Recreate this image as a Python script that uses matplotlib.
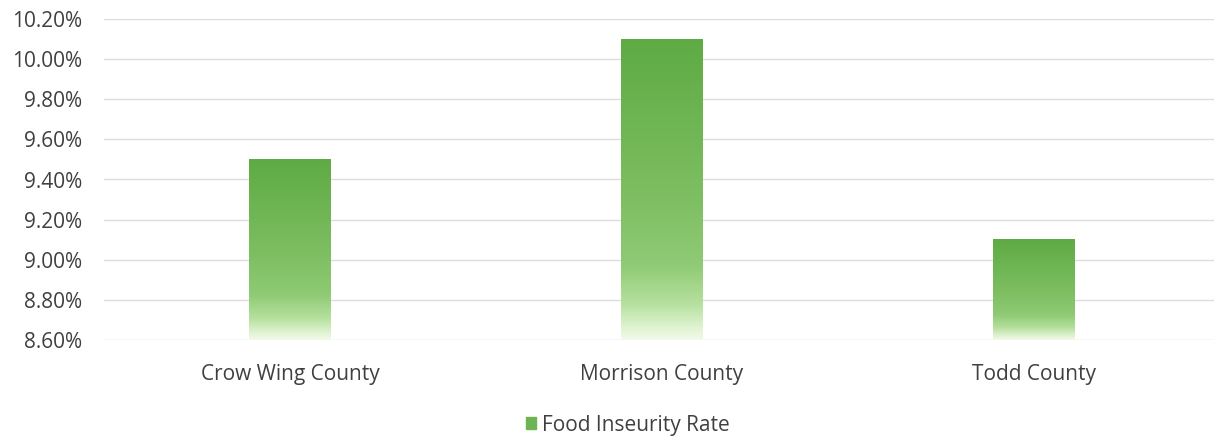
import numpy as np
import matplotlib
matplotlib.use("Agg")
import matplotlib.pyplot as plt
from matplotlib.colors import LinearSegmentedColormap
from matplotlib.ticker import FuncFormatter
from matplotlib.patches import Patch

counties = ["Crow Wing County", "Morrison County", "Todd County"]
rates = [9.50, 10.10, 9.10]
series_name = "Food Inseurity Rate"
y_ticks = [8.60, 8.80, 9.00, 9.20, 9.40, 9.60, 9.80, 10.00, 10.20]

plt.rcParams['font.family'] = ['Open Sans', 'DejaVu Sans']

# green gradient, darker on top, only fading out near the bottom
grad = LinearSegmentedColormap.from_list(
    "g", [(0.0, "#f2faea"), (0.04, "#e0f3d2"), (0.12, "#b5e09d"),
          (0.25, "#8fca74"), (0.5, "#7cbd60"), (1.0, "#5eab44")])

fig = plt.figure(figsize=(12.14, 4.38), dpi=100)
ax = fig.add_axes([104/1214, 98/438, 1110/1214, 321/438])

ymin, ymax = y_ticks[0], y_ticks[-1]
w = 0.22
x = np.arange(len(counties))
bars = ax.bar(x, [r - ymin for r in rates], bottom=ymin, width=w, color="none")
g = np.linspace(0, 1, 256).reshape(-1, 1)
for b in bars:
    x0, y0 = b.get_x(), b.get_y()
    ax.imshow(g, cmap=grad, origin="lower", aspect="auto",
              extent=[x0, x0 + b.get_width(), y0, y0 + b.get_height()], zorder=2)

ax.set_xlim(-0.5, 2.485)
ax.set_ylim(ymin, ymax)
ax.set_yticks(y_ticks)
ax.yaxis.set_major_formatter(FuncFormatter(lambda v, p: f"{v:.2f}%"))
ax.set_xticks(x)
ax.set_xticklabels(counties)
ax.grid(axis="y", color="#dcdcdc", lw=1, zorder=0)
ax.set_axisbelow(True)
for s in ax.spines.values():
    s.set_visible(False)
ax.tick_params(length=0, labelsize=15, colors="#404040")
ax.tick_params(axis="y", pad=16)
ax.tick_params(axis="x", pad=17)

ax.legend(handles=[Patch(color="#6cb552", label=series_name)], loc="center",
          bbox_to_anchor=(0.472, -0.265), frameon=False, fontsize=15,
          handlelength=0.5, handleheight=0.5, handletextpad=0.3, labelcolor="#404040")

fig.savefig("out.png", dpi=100, facecolor="white")
